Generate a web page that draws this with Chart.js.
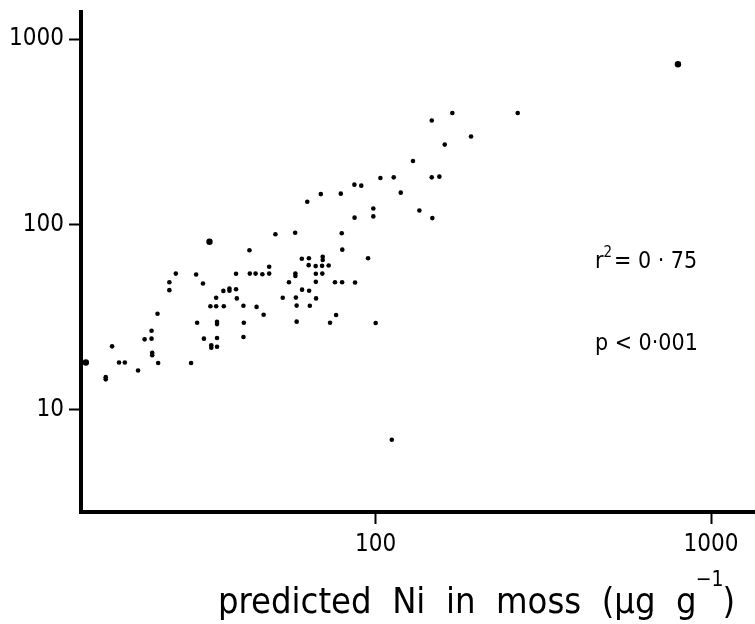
<!DOCTYPE html>
<html>
<head>
<meta charset="utf-8">
<title>Predicted vs observed Ni in moss</title>
<script src="https://cdn.jsdelivr.net/npm/chart.js@4"></script>
<style>
  html, body { margin: 0; padding: 0; background: #fff; }
  canvas { display: block; }
</style>
</head>
<body>
<canvas id="chart" width="755" height="624"></canvas>
<script>
/* ---- Data (µg g-1, log-log) ---- */
const predictedNi = [
  797, 169.4, 265.3, 147.1, 192.6, 160.8, 129.3, 103.4, 113.3, 147.1,
  155.0, 86.5, 90.7, 68.7, 78.8, 118.9, 62.6, 98.5, 135.1, 86.6,
  98.5, 147.7, 50.3, 57.6, 79.3, 32.0, 42.1, 79.6, 60.3, 63.3,
  69.6, 69.6, 95.0, 63.2, 66.3, 69.3, 72.5, 48.2, 25.4, 29.2,
  38.4, 42.2, 43.9, 46.0, 48.2, 57.7, 57.7, 66.4, 69.4, 24.3,
  30.6, 55.2, 66.4, 75.7, 79.5, 86.9, 24.3, 35.2, 36.7, 36.7,
  38.4, 60.4, 63.4, 33.5, 38.6, 52.9, 57.9, 66.5, 22.4, 32.2,
  33.5, 35.3, 40.4, 44.2, 58.2, 63.7, 46.4, 76.3, 29.4, 33.7,
  33.7, 40.5, 58.2, 73.2, 100.1, 21.5, 20.5, 21.5, 30.8, 33.7,
  40.4, 16.4, 32.4, 32.4, 33.7, 21.6, 21.6, 17.2, 17.9, 22.5,
  28.2, 13.7, 19.6, 15.7, 15.7, 111.8
];
const observedNi = [
  732, 399, 399, 363.6, 298.0, 269.7, 219.9, 178.0, 179.5, 179.5,
  181.1, 163.9, 161.9, 145.8, 146.6, 148.4, 132.6, 122.0, 119.0, 108.8,
  110.5, 108.2, 88.6, 90.2, 89.7, 80.6, 72.6, 73.1, 65.3, 65.7,
  66.9, 64.3, 65.7, 60.3, 59.6, 59.8, 60.0, 59.1, 54.3, 53.7,
  54.2, 54.3, 54.3, 53.9, 54.3, 54.3, 52.7, 54.2, 54.3, 48.8,
  48.0, 48.8, 49.0, 48.8, 48.8, 48.6, 44.2, 43.8, 45.1, 43.9,
  44.7, 44.5, 43.9, 40.2, 39.9, 40.2, 40.3, 39.9, 33.0, 36.2,
  36.2, 36.2, 36.4, 35.9, 36.5, 36.4, 32.6, 32.5, 29.5, 29.8,
  29.0, 29.5, 29.9, 29.5, 29.4, 26.7, 24.0, 24.2, 24.2, 24.4,
  24.7, 22.0, 22.3, 21.6, 21.9, 20.3, 19.7, 18.0, 18.0, 17.9,
  17.9, 18.0, 16.3, 15.0, 14.6, 6.9
];
const xTicks = [100, 1000];
const yTicks = [10, 100, 1000];
const xRange = [13.25, 1352];
const yRange = [2.81, 1400];
const stats = { r2: "0 · 75", p: "0·001" };

const FONT = '"DejaVu Sans Condensed", "DejaVu Sans", sans-serif';

/* ---- r², p and the x axis title, drawn on the canvas ---- */
const textPlugin = {
  id: "figText",
  afterDraw(chart) {
    const ctx = chart.ctx;
    ctx.save();
    ctx.fillStyle = "#000";
    ctx.textBaseline = "alphabetic";
    ctx.textAlign = "left";

    // r² = 0·75
    let x = 595;
    ctx.font = "23px " + FONT;
    ctx.fillText("r", x, 268);
    x += ctx.measureText("r").width;
    ctx.font = "15px " + FONT;
    ctx.fillText("2", x, 257);
    x += ctx.measureText("2").width + 2;
    ctx.font = "23px " + FONT;
    ctx.fillText("= " + stats.r2, x, 268);

    ctx.fillText("p < " + stats.p, 595, 350);

    // x axis title
    ctx.font = "36px " + FONT;
    let tx = 218;
    const main = "predicted  Ni  in  moss  (µg  g";
    ctx.fillText(main, tx, 613);
    tx += ctx.measureText(main).width - 1;
    ctx.font = "21px " + FONT;
    ctx.fillText("−1", tx, 586);
    tx += ctx.measureText("−1").width - 1;
    ctx.font = "36px " + FONT;
    ctx.fillText(")", tx, 613);
    ctx.restore();
  }
};

const big = new Set([0, 25, 101]);

new Chart(document.getElementById("chart"), {
  type: "scatter",
  data: {
    datasets: [{
      data: predictedNi.map((v, i) => ({ x: v, y: observedNi[i] })),
      backgroundColor: "#000",
      borderWidth: 0,
      pointRadius: (c) => big.has(c.dataIndex) ? 3.2 : 2.3
    }]
  },
  options: {
    responsive: false,
    devicePixelRatio: 1,
    animation: false,
    layout: { autoPadding: false, padding: { top: 12, right: 0, left: 0, bottom: 0 } },
    plugins: { legend: { display: false }, tooltip: { enabled: false } },
    scales: {
      x: {
        type: "logarithmic",
        min: xRange[0],
        max: xRange[1],
        afterFit: (s) => { s.height = 112; s.paddingLeft = 0; s.paddingRight = 0; },
        afterBuildTicks: (s) => { s.ticks = xTicks.map(v => ({ value: v })); },
        ticks: {
          autoSkip: false,
          maxRotation: 0,
          color: "#000",
          padding: 6,
          font: { family: FONT, size: 24 },
          callback: (v) => String(v)
        },
        grid: { drawOnChartArea: false, drawTicks: true, tickLength: 12, tickWidth: 2, tickColor: "#000" },
        border: { display: true, color: "#000", width: 4 }
      },
      y: {
        type: "logarithmic",
        min: yRange[0],
        max: yRange[1],
        afterFit: (s) => { s.width = 81; s.paddingTop = 0; s.paddingBottom = 0; },
        afterBuildTicks: (s) => { s.ticks = yTicks.map(v => ({ value: v })); },
        ticks: {
          autoSkip: false,
          color: "#000",
          padding: 5,
          font: { family: FONT, size: 24 },
          callback: (v) => String(v)
        },
        grid: { drawOnChartArea: false, drawTicks: true, tickLength: 12, tickWidth: 2, tickColor: "#000" },
        border: { display: true, color: "#000", width: 4 }
      }
    }
  },
  plugins: [textPlugin]
});
</script>
</body>
</html>
